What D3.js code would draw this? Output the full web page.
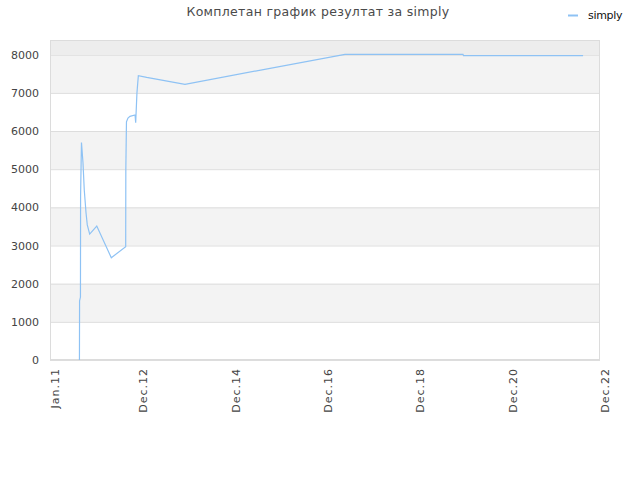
<!DOCTYPE html>
<html><head><meta charset="utf-8">
<script src="https://cdn.jsdelivr.net/npm/d3@7"></script>
<style>body{margin:0;background:#fff}svg{display:block}</style>
</head><body>
<svg id="c" width="640" height="480"></svg>
<script>
const title = "Комплетан график резултат за simply";
const seriesName = "simply";
const dates = ["2011-08-22","2011-08-23","2011-08-30","2011-08-31","2011-09-07","2011-09-19","2011-09-29","2011-10-13","2011-10-23","2011-11-11","2012-01-06","2012-04-30","2012-08-22","2012-08-23","2012-08-28","2012-09-09","2012-09-25","2012-11-04","2012-11-09","2012-11-19","2012-11-30","2013-02-04","2013-12-04","2017-05-23","2019-12-13","2019-12-17","2022-07-20"];
const values = [0,1550,1650,4290,5700,5170,4460,3860,3540,3300,3510,2680,2970,4980,6240,6340,6385,6420,6220,7000,7450,7405,7225,8010,8010,7975,7975];
const tickDates = ["2011-01-01","2012-12-01","2014-12-01","2016-12-01","2018-12-01","2020-12-01","2022-12-01"];
const tickLabels = ["Jan.11","Dec.12","Dec.14","Dec.16","Dec.18","Dec.20","Dec.22"];
const yTicks = [0,1000,2000,3000,4000,5000,6000,7000,8000];

const parse = d3.utcParse("%Y-%m-%d");
const svg = d3.select("#c");
const L = 50, R = 600, T = 40, B = 360;
const x = d3.scaleUtc().domain([parse(tickDates[0]), parse(tickDates[tickDates.length-1])]).range([L, R]);
const y = d3.scaleLinear().domain([0, 8000]).range([B, 54.7]);
const font = "'DejaVu Sans', Verdana, sans-serif";

// background bands
svg.append("rect").attr("x", L).attr("y", T).attr("width", R-L).attr("height", y(8000)-T).attr("fill", "#ededed");
for (let i = 0; i < yTicks.length-1; i++) {
  if (i % 2 === 1) {
    svg.append("rect").attr("x", L).attr("y", y(yTicks[i+1])).attr("width", R-L)
      .attr("height", y(yTicks[i]) - y(yTicks[i+1])).attr("fill", "#f3f3f3");
  }
}
// grid
svg.append("g").selectAll("line").data(yTicks).join("line")
  .attr("x1", L).attr("x2", R).attr("y1", d => y(d)+0.5).attr("y2", d => y(d)+0.5)
  .attr("stroke", "#dddddd").attr("stroke-width", 1);
// border
svg.append("rect").attr("x", L+0.5).attr("y", T+0.5).attr("width", R-L-1).attr("height", B-T-1)
  .attr("fill", "none").attr("stroke", "#dcdcdc");

// y axis labels
const ya = svg.append("g").attr("transform", `translate(${L},0)`)
  .call(d3.axisLeft(y).tickValues(yTicks).tickSize(0).tickPadding(11).tickFormat(d3.format("d")));
ya.select(".domain").remove();
ya.selectAll("text").attr("font-family", font).attr("font-size", 11).attr("fill", "#444");

// x axis labels
const xa = svg.append("g").attr("transform", `translate(0,${B})`)
  .call(d3.axisBottom(x).tickValues(tickDates.map(parse)).tickSize(0)
    .tickFormat((d, i) => tickLabels[i]));
xa.select(".domain").remove();
xa.selectAll("text").attr("font-family", font).attr("font-size", 11).attr("fill", "#444")
  .attr("letter-spacing", 1)
  .attr("text-anchor", "end").attr("transform", "rotate(-90)")
  .attr("x", -8).attr("y", 4.5).attr("dy", "0.35em");

// line
const data = dates.map((d, i) => ({d: parse(d), v: values[i]}));
svg.append("path").datum(data)
  .attr("d", d3.line().x(p => x(p.d)).y(p => y(p.v)))
  .attr("fill", "none").attr("stroke", "#8ec2f4").attr("stroke-width", 1.2);

// title
svg.append("text").attr("x", 318).attr("y", 16).attr("text-anchor", "middle")
  .attr("font-family", font).attr("font-size", 12.5).attr("fill", "#4a4a4a")
  .attr("letter-spacing", 0.3)
  .text(title);
// legend
svg.append("line").attr("x1", 568).attr("x2", 578).attr("y1", 15.5).attr("y2", 15.5)
  .attr("stroke", "#8ec2f4").attr("stroke-width", 2);
svg.append("text").attr("x", 588).attr("y", 19).attr("font-family", font).attr("font-size", 11)
  .attr("fill", "#111").attr("letter-spacing", -0.3).text(seriesName);
</script>
</body></html>
